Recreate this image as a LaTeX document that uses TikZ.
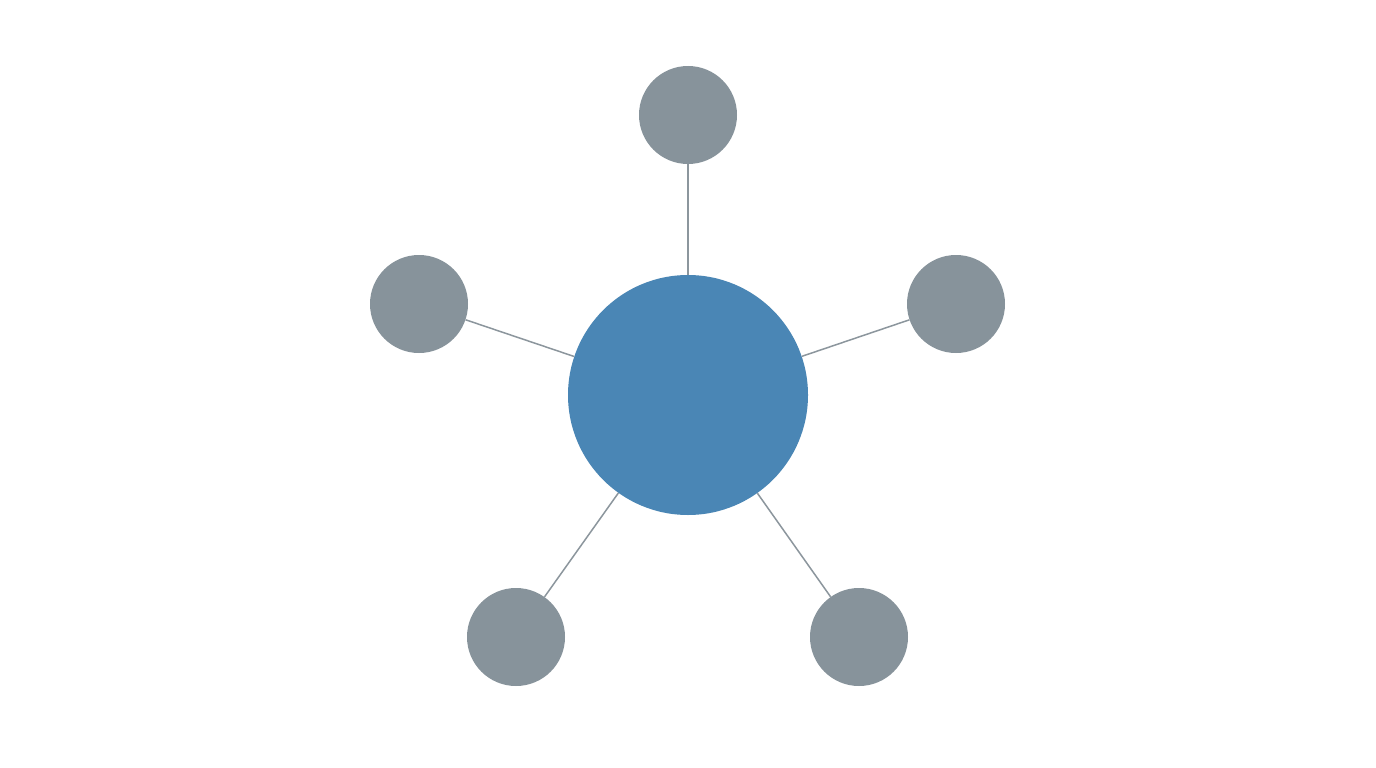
\documentclass[tikz,border=0pt]{standalone}
\definecolor{hubblue}{HTML}{4A86B5}
\definecolor{satgray}{HTML}{87939B}
\definecolor{linkgray}{HTML}{8C969D}
\tikzset{
  hub/.style={circle, fill=hubblue, draw=none, minimum size=240pt, inner sep=0pt},
  sat/.style={circle, fill=satgray, draw=none, minimum size=98pt, inner sep=0pt},
  link/.style={draw=linkgray, line width=1.5pt}
}
\begin{document}
\begin{tikzpicture}[x=1pt, y=-1pt]
\fill[white] (0,0) rectangle (1376,768);
\useasboundingbox (0,0) rectangle (1376,768);
\node[hub] (c) at (688,395) {};
\node[sat] (t) at (688,115) {};
\node[sat] (l) at (419,304) {};
\node[sat] (r) at (956,304) {};
\node[sat] (bl) at (516,637) {};
\node[sat] (br) at (859,637) {};
\foreach \s in {t,l,r,bl,br}{
  \draw[link] (c) -- (\s);
}
\end{tikzpicture}
\end{document}
